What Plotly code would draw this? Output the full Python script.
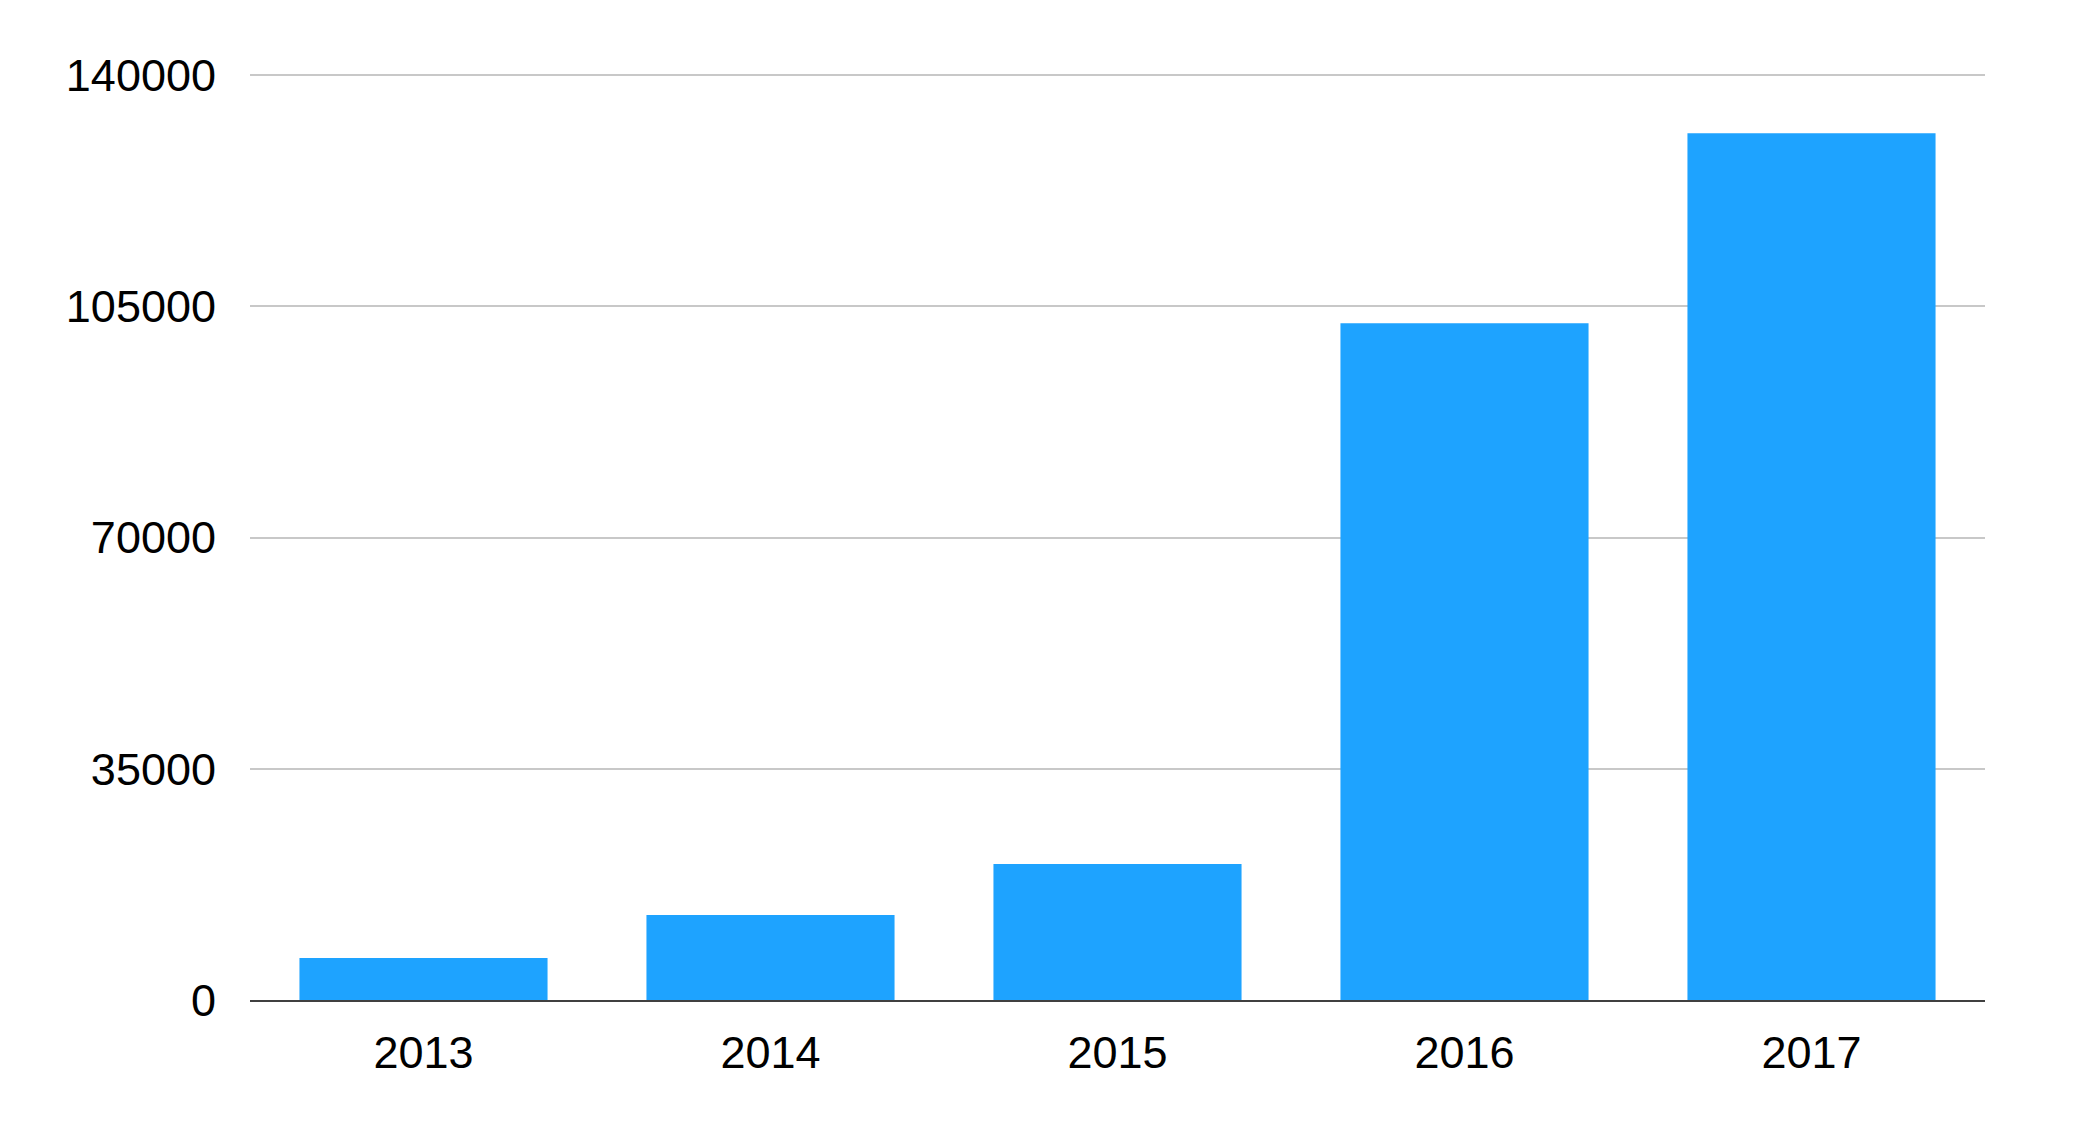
import plotly.graph_objects as go

anos = ['2013', '2014', '2015', '2016', '2017']
valores = [6350, 12860, 20580, 102470, 131220]
ticks_y = [0, 35000, 70000, 105000, 140000]

fig = go.Figure()
fig.add_trace(go.Bar(x=anos, y=valores, marker=dict(color='#1ea3ff', line=dict(width=0))))

# a página tem margem de 8px no body, por isso as margens compensam
fig.update_layout(
    width=2082, height=1128,
    margin=dict(l=242, r=105, t=65, b=136),
    plot_bgcolor='white', paper_bgcolor='white',
    bargap=0.285,
    showlegend=False,
    font=dict(family='Liberation Sans, Arial, sans-serif', size=45, color='black'),
)
fig.update_xaxes(
    showgrid=False, showline=True, linecolor='#404040', linewidth=2,
    ticks='', ticklabelstandoff=12,
)
# topo um pouco acima de 140000 senão o plotly não desenha a grade da ponta
fig.update_yaxes(
    range=[0, 140350], tickvals=ticks_y, ticktext=[str(t) for t in ticks_y],
    showgrid=True, gridcolor='#c8c8c8', gridwidth=1.5,
    zeroline=False, showline=False, ticks='', ticklabelstandoff=33,
)

fig.write_html("out.html")
